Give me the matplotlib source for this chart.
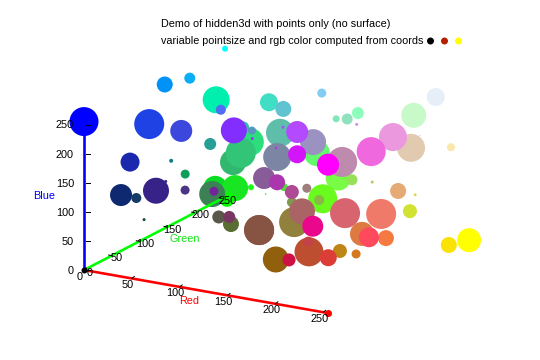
import matplotlib
matplotlib.use('Agg')
import matplotlib.pyplot as plt
import numpy as np

plt.rcParams['font.family'] = ['Liberation Sans', 'DejaVu Sans']

# Points: red, green, blue coordinates (they are also the colour) and radius, back to front
red = [0, 80, 0, 10, 0, 0, 30, 60, 40, 25, 20, 15, 15, 20, 60, 55, 75, 20,
       45, 50, 50, 60, 130, 90, 140,
       10, 25, 5, 60, 115, 30, 50, 90, 90, 120, 135,
       95, 65, 95, 160, 185, 100, 155, 125, 180, 180, 210, 130, 130, 145, 140, 200,
       200, 230, 225, 235, 240, 250, 240, 120, 150, 190, 255, 185, 230, 220, 210, 105, 140,
       135, 80, 170, 160, 130, 175, 145, 170, 235, 215, 240, 220, 245, 255,
       135, 145, 205, 190, 195, 190, 220, 215, 250, 255]
green = [239, 109, 146, 174, 255, 0, 66, 72, 159, 40, 123, 157, 41, 60, 44, 35, 53, 74,
         222, 183, 197, 184, 46, 148, 62,
         220, 230, 250, 128, 36, 250, 242, 110, 88, 55, 83,
         190, 222, 196, 83, 78, 248, 146, 133, 36, 74, 22, 205, 231, 225, 253, 147,
         250, 238, 202, 152, 192, 231, 104, 252, 225, 138, 0, 201, 170, 218, 226, 250, 183,
         92, 223, 55, 126, 151, 73, 129, 100, 7, 100, 122, 122, 122, 74,
         83, 96, 16, 78, 68, 134, 61, 120, 227, 255]
blue = [175, 245, 247, 247, 255, 255, 227, 221, 150, 173, 133, 92, 113, 100, 148, 135, 133, 56,
        124, 110, 119, 172, 255, 193, 236,
        36, 35, 0, 85, 151, 28, 26, 51, 74, 99, 67,
        170, 198, 208, 251, 255, 108, 193, 165, 244, 253, 249, 241, 184, 191, 186, 236,
        201, 247, 176, 222, 207, 170, 222, 69, 88, 173, 255, 106, 119, 86, 51, 30, 71,
        152, 56, 173, 125, 80, 149, 61, 101, 140, 111, 106, 66, 66, 94,
        67, 13, 69, 48, 72, 22, 55, 31, 4, 0]
radius = [13.5, 5, 8, 5.5, 3, 14.5, 15, 11, 6, 9.5, 2, 4.5, 11, 5, 1.5, 13, 4.5, 1.5,
          14, 13, 15, 6, 13, 4, 1.5,
          12, 13, 7.5, 13, 4.5, 3, 0.8, 8, 6.5, 6, 15,
          14, 9, 8, 1.5, 2, 13, 13, 14, 1, 11, 9, 4.5, 3.5, 5.5, 6, 1.5,
          12.5, 9, 14, 14, 0.6, 4, 14.5, 12.5, 5.5, 15, 11, 1.5, 8, 1.5, 7, 14.5, 5,
          11, 4, 8, 4.5, 5, 7, 15, 13, 10.5, 15, 15, 12, 8, 10,
          15, 13, 6.5, 14.5, 5, 7, 8.5, 4.5, 8, 12]

ticks = [0, 50, 100, 150, 200, 250]
title_lines = ['Demo of hidden3d with points only (no surface)',
               'variable pointsize and rgb color computed from coords']
key_colors = ['#000000', '#b42000', '#ffff00']

# view of the cube, in screen pixels per unit
def project(r, g, b):
    r, g, b = np.asarray(r, float), np.asarray(g, float), np.asarray(b, float)
    return 84 + 0.957 * r + 0.553 * g, 270 + 0.169 * r - 0.286 * g - 0.582 * b

fig = plt.figure(figsize=(5.4, 3.6), dpi=100)
ax = fig.add_axes([0, 0, 1, 1])
ax.set_xlim(0, 540)
ax.set_ylim(360, 0)
ax.axis('off')

px = 72 / fig.dpi
colors = np.column_stack([red, green, blue]) / 255
x, y = project(red, green, blue)
sizes = (2 * np.array(radius) * px) ** 2
ax.scatter(x, y, s=sizes, c=colors, linewidths=0, zorder=2)

# axes of the cube
for end, col in [((255, 0, 0), '#ff0000'), ((0, 255, 0), '#00ff00'), ((0, 0, 255), '#0000ff')]:
    xs, ys = project([0, end[0]], [0, end[1]], [0, end[2]])
    ax.plot(xs, ys, color=col, lw=2.6 * px, zorder=3, solid_capstyle='butt')

ax.scatter(*project([0], [0], [0]), s=(6 * px) ** 2, c='black', linewidths=0, zorder=4)
ax.scatter(*project([255], [0], [0]), s=(7 * px) ** 2, c='#ff0000', linewidths=0, zorder=4)

for t in ticks:
    # red axis
    tx, ty = project(t, 0, 0)
    ax.plot([tx, tx + 2.5], [ty, ty - 2], color='black', lw=0.7, zorder=3)
    ax.text(tx - 4, ty + 6.5, str(t), ha='center', va='center', fontsize=7.8, zorder=5)
    # green axis
    if t > 0:
        tx, ty = project(0, t, 0)
        ax.plot([tx - 3, tx], [ty - 0.7, ty], color='black', lw=0.7, zorder=3)
        ax.text(tx + 5.5, ty + 2.5, str(t), ha='center', va='center', fontsize=7.8, zorder=5)
    else:
        ax.text(90, 273, '0', ha='center', va='center', fontsize=7.8, zorder=5)
    # blue axis
    tx, ty = project(0, 0, t)
    ax.plot([tx + 2, tx + 6], [ty, ty], color='black', lw=0.7, zorder=5)
    ax.text(74, ty + 1, str(t), ha='right', va='center', fontsize=7.8, zorder=5)

ax.text(189, 301, 'Red', color='#ff0000', ha='center', va='center', fontsize=7.8, zorder=5)
ax.text(185, 239, 'Green', color='#10e810', ha='center', va='center', fontsize=7.8, zorder=5)
ax.text(44, 196, 'Blue', color='#0000ff', ha='center', va='center', fontsize=7.8, zorder=5)

ax.text(161, 24, title_lines[0], ha='left', va='center', fontsize=7.85, zorder=5)
ax.text(161, 41, title_lines[1], ha='left', va='center', fontsize=7.75, zorder=5)
ax.scatter([430.5, 444.5, 458.5], [41, 41, 41], s=(7 * px) ** 2, c=key_colors, linewidths=0, zorder=5)

fig.savefig('out.png', dpi=100, facecolor='white')
